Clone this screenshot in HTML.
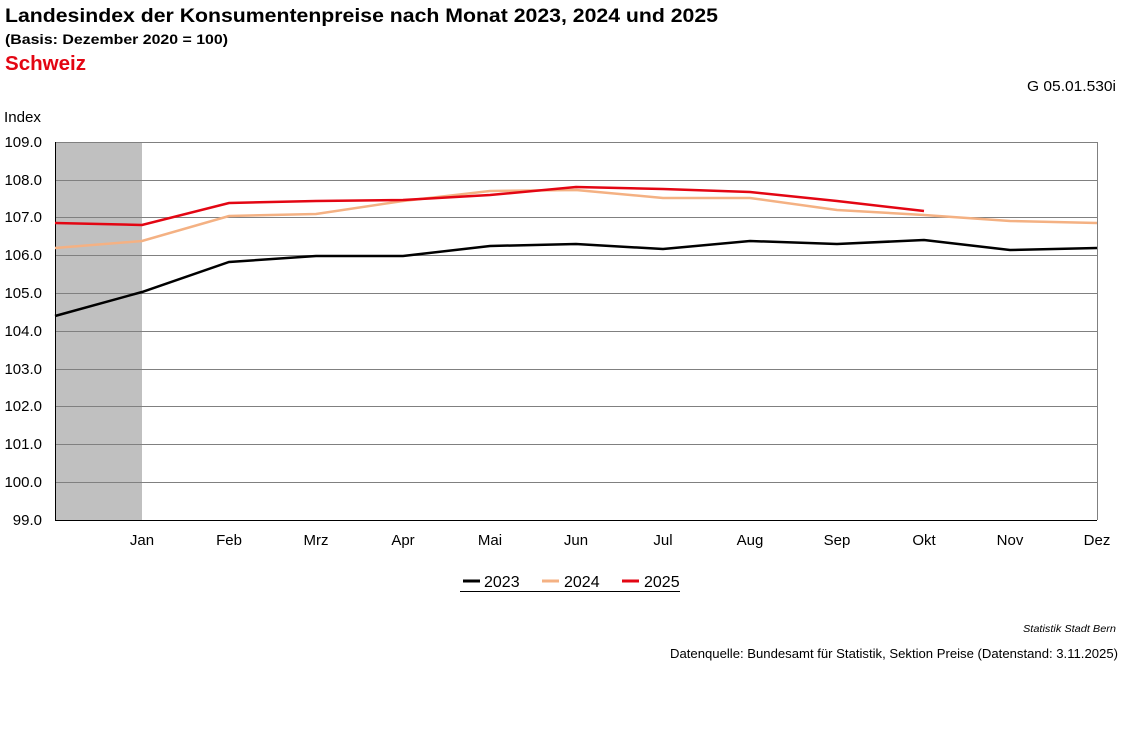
<!DOCTYPE html>
<html><head><meta charset="utf-8"><style>
body{margin:0;background:#fff;font-family:"Liberation Sans",Arial,sans-serif;}
</style></head><body>
<svg width="1127" height="734" xmlns="http://www.w3.org/2000/svg" font-family="Liberation Sans, Arial, sans-serif">
<rect width="1127" height="734" fill="#fff"/>
<text x="5" y="22" font-size="19" font-weight="bold" textLength="713" lengthAdjust="spacingAndGlyphs">Landesindex der Konsumentenpreise nach Monat 2023, 2024 und 2025</text>
<text x="5" y="44" font-size="14" font-weight="bold" textLength="223" lengthAdjust="spacingAndGlyphs">(Basis: Dezember 2020 = 100)</text>
<text x="5" y="70" font-size="20" font-weight="bold" fill="#e30613" textLength="81" lengthAdjust="spacingAndGlyphs">Schweiz</text>
<text x="1116" y="91" font-size="15" text-anchor="end" textLength="89" lengthAdjust="spacingAndGlyphs">G 05.01.530i</text>
<text x="4" y="122" font-size="15" textLength="37" lengthAdjust="spacingAndGlyphs">Index</text>
<rect x="55" y="142" width="87" height="378" fill="#c0c0c0"/>
<g stroke="#808080" stroke-width="1">
<line x1="55" x2="1097" y1="142.5" y2="142.5"/><line x1="55" x2="1097" y1="180.5" y2="180.5"/>
<line x1="55" x2="1097" y1="217.5" y2="217.5"/><line x1="55" x2="1097" y1="255.5" y2="255.5"/>
<line x1="55" x2="1097" y1="293.5" y2="293.5"/><line x1="55" x2="1097" y1="331.5" y2="331.5"/>
<line x1="55" x2="1097" y1="369.5" y2="369.5"/><line x1="55" x2="1097" y1="406.5" y2="406.5"/>
<line x1="55" x2="1097" y1="444.5" y2="444.5"/><line x1="55" x2="1097" y1="482.5" y2="482.5"/>
<line x1="1097.5" x2="1097.5" y1="142" y2="520"/>
</g>
<line x1="55" x2="1097" y1="520.5" y2="520.5" stroke="#000"/>
<line x1="55.5" x2="55.5" y1="142" y2="520" stroke="#000"/>
<g font-size="15" text-anchor="end">
<text x="42" y="147">109.0</text><text x="42" y="185">108.0</text><text x="42" y="222">107.0</text>
<text x="42" y="260">106.0</text><text x="42" y="298">105.0</text><text x="42" y="336">104.0</text>
<text x="42" y="374">103.0</text><text x="42" y="411">102.0</text><text x="42" y="449">101.0</text>
<text x="42" y="487">100.0</text><text x="42" y="525">99.0</text>
</g>
<g font-size="15" text-anchor="middle">
<text x="142" y="545">Jan</text><text x="229" y="545">Feb</text><text x="316" y="545">Mrz</text>
<text x="403" y="545">Apr</text><text x="490" y="545">Mai</text><text x="576" y="545">Jun</text>
<text x="663" y="545">Jul</text><text x="750" y="545">Aug</text><text x="837" y="545">Sep</text>
<text x="924" y="545">Okt</text><text x="1010" y="545">Nov</text><text x="1097" y="545">Dez</text>
</g>
<polyline fill="none" stroke="#000" stroke-width="2.5" points="55,316 142,292 229,262 316,256 403,256 490,246 576,244 663,249 750,241 837,244 924,240 1010,250 1097,248"/>
<polyline fill="none" stroke="#f4b183" stroke-width="2.5" points="55,248 142,241 229,216 316,214 403,201 490,191 576,190 663,198 750,198 837,210 924,215 1010,221 1097,223"/>
<polyline fill="none" stroke="#e30613" stroke-width="2.5" points="55,223 142,225 229,203 316,201 403,200 490,195 576,187 663,189 750,192 837,201 924,211"/>
<line x1="460" x2="680" y1="591.5" y2="591.5" stroke="#000"/>
<line x1="463" x2="480" y1="581" y2="581" stroke="#000" stroke-width="3"/>
<text x="484" y="587" font-size="16">2023</text>
<line x1="542" x2="559" y1="581" y2="581" stroke="#f4b183" stroke-width="3"/>
<text x="564" y="587" font-size="16">2024</text>
<line x1="622" x2="639" y1="581" y2="581" stroke="#e30613" stroke-width="3"/>
<text x="644" y="587" font-size="16">2025</text>
<text x="1116" y="632" font-size="10.5" font-style="italic" text-anchor="end" textLength="93" lengthAdjust="spacingAndGlyphs">Statistik Stadt Bern</text>
<text x="1118" y="658" font-size="13" text-anchor="end" textLength="448" lengthAdjust="spacingAndGlyphs">Datenquelle: Bundesamt für Statistik, Sektion Preise (Datenstand: 3.11.2025)</text>
</svg>
</body></html>
